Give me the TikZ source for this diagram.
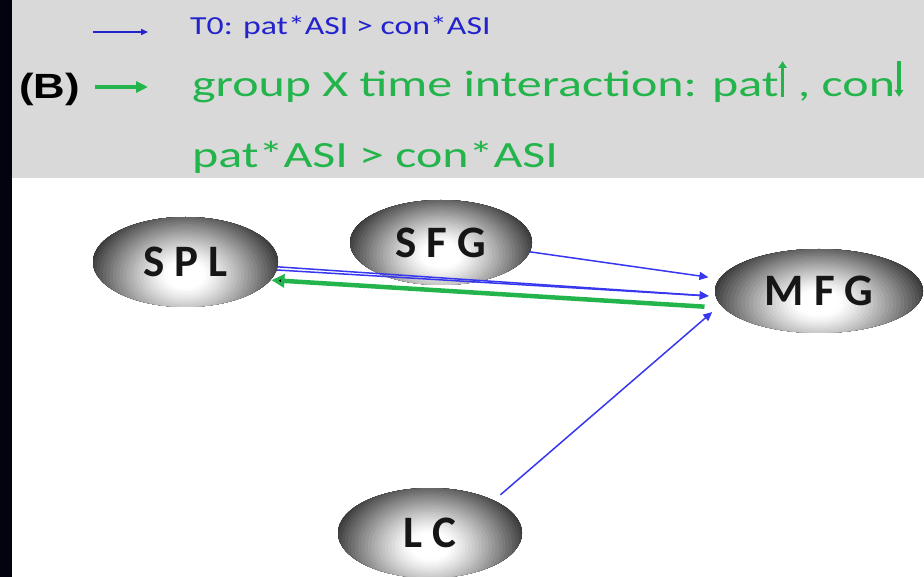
\documentclass[tikz,border=0pt]{standalone}
\usepackage{fontspec}
\usepackage{graphicx}
\setmainfont{Carlito}
\newfontfamily\arialf{Liberation Sans}
\usetikzlibrary{arrows.meta,shapes.geometric}
\definecolor{hdrgray}{RGB}{217,217,217}
\definecolor{stripcol}{RGB}{3,3,16}
\definecolor{edgeblue}{RGB}{55,55,240}
\definecolor{txtblue}{RGB}{35,35,205}
\definecolor{grn}{RGB}{35,180,75}
\definecolor{lbl}{RGB}{22,22,22}
\newcommand\uparr{\tikz[baseline=0pt]\draw[grn,line width=2.4pt,-{Triangle[length=7pt,width=6pt]}] (0pt,0pt)--(0pt,36pt);}
\newcommand\downarr{\tikz[baseline=0pt]\draw[grn,line width=2.4pt,-{Triangle[length=7pt,width=6pt]}] (0pt,36pt)--(0pt,0pt);}
\tikzset{
  ell/.style n args={2}{ellipse, minimum width=#1, minimum height=#2, inner sep=0pt,
    fill=black!80, text=lbl, font=\fontsize{45}{45}\selectfont\bfseries,
    path picture={
      \foreach \i in {0,...,34}{
        \pgfmathsetmacro\f{1.2-\i/34*1.15}
        \pgfmathsetmacro\c{min(82,80*max(0,(\f-0.2)/0.8)^1.2)}
        \fill[black!\c] ([yshift=-0.145*#2]path picture bounding box.center)
          ellipse [x radius=\f*0.54*#1, y radius=\f*0.78*#2];
      }}},
  hdrtext/.style={anchor=base west, inner sep=0pt, text=grn, font=\fontsize{37}{37}\selectfont},
  bedge/.style={draw=edgeblue, line width=1.5pt, -{Triangle[length=9pt,width=8pt]}},
  gedge/.style={draw=grn, line width=4.5pt, -{Triangle[length=13pt,width=13pt]}}
}
\begin{document}
\begin{tikzpicture}[x=1pt,y=-1pt]
\useasboundingbox (0,0) rectangle (924,577);
\fill[white] (0,0) rectangle (924,577);
\fill[hdrgray] (12,0) rectangle (924,178);
\fill[stripcol] (0,0) rectangle (12,577);

% legend
\coordinate (lb1) at (93,32);
\coordinate (lb2) at (148,32);
\draw[draw=txtblue, line width=1.5pt, -{Triangle[length=7pt,width=6pt]}] (lb1) -- (lb2);
\node[hdrtext, text=txtblue, font=\fontsize{26}{26}\selectfont] (t1) at (190,35) {\scalebox{1.3}[1]{T0: pat*ASI > con*ASI}};
\node[anchor=base west, inner sep=0pt, text=black, font=\fontsize{35}{35}\selectfont\arialf\bfseries] (lblB) at (19,99) {\scalebox{1.25}[1]{(B)}};
\coordinate (lg1) at (95,87);
\coordinate (lg2) at (148,87);
\draw[draw=grn, line width=4pt, -{Triangle[length=12pt,width=11pt]}] (lg1) -- (lg2);
\node[hdrtext] (t2) at (192,97) {\scalebox{1.35}[1]{group X time interaction: pat\uparr\ , con\downarr}};
\node[hdrtext] (t3) at (192,168) {\scalebox{1.35}[1]{pat*ASI > con*ASI}};

% nodes
\node[ell={185pt}{90pt}] (spl) at (185.5,262) {S P L};
\node[ell={182pt}{85pt}] (sfg) at (441,242.5) {S F G};
\node[ell={208pt}{84pt}] (mfg) at (819,291) {M F G};
\node[ell={184pt}{90pt}] (lc) at (430,533) {L C};

% edges
\draw[bedge, shorten >=11pt] (sfg.-6) -- (mfg.173.5);
\draw[bedge, shorten >=7pt] (spl.-3) -- (mfg.183);
\draw[bedge, shorten >=7pt] (spl.-5) -- (mfg.183.5);
\draw[bedge, shorten <=8.5pt, shorten >=11pt] (lc.27) -- (mfg.188);
\draw[gedge, shorten <=19pt, shorten >=1pt] (mfg.190) -- (spl.-12);
\end{tikzpicture}
\end{document}
